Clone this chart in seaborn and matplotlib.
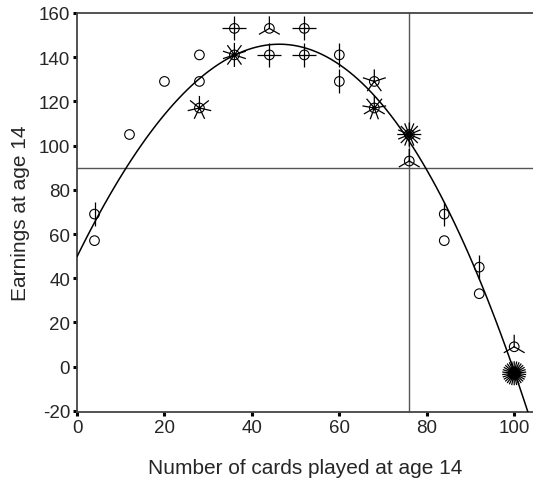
import numpy as np
import pandas as pd
import matplotlib
matplotlib.use("Agg")
import matplotlib.pyplot as plt
from matplotlib.path import Path
import seaborn as sns

# Cards played / earnings at age 14, with the number of people at each point
cards = [4, 4, 12, 20, 28, 28, 28, 36, 36, 44, 44, 52, 52, 60, 60,
         68, 68, 76, 76, 84, 84, 92, 92, 100, 100]
earnings = [69, 57, 105, 129, 141, 129, 117, 153, 141, 153, 141, 153, 141, 141, 129,
            129, 117, 105, 93, 69, 57, 45, 33, 9, -3]
counts = [2, 1, 1, 1, 1, 1, 7, 4, 10, 3, 4, 4, 4, 2, 2,
          5, 9, 16, 3, 2, 1, 2, 1, 3, 30]

x_ticks = [0, 20, 40, 60, 80, 100]
y_ticks = [-20, 0, 20, 40, 60, 80, 100, 120, 140, 160]
ref_x = 76
ref_y = 90

df = pd.DataFrame({"cards": cards, "earnings": earnings, "n": counts})
people = df.loc[df.index.repeat(df["n"])].reset_index(drop=True)

sns.set_theme(style="white")
plt.rcParams["font.family"] = ["Liberation Sans", "DejaVu Sans"]
plt.rcParams["axes.unicode_minus"] = False

fig = plt.figure(figsize=(5.33, 4.81), dpi=100)
ax = fig.add_axes([0.1445, 0.1414, 0.8555, 0.8297])
ax.set_xlim(0, 104.3)
ax.set_ylim(-20.5, 160)

# reference lines
ax.axhline(ref_y, color="#555555", lw=1.0, zorder=1)
ax.axvline(ref_x, color="#555555", lw=1.0, zorder=1)

# fitted curve over all individuals
sns.regplot(data=people, x="cards", y="earnings", order=3, scatter=False,
            ci=None, truncate=False, ax=ax,
            line_kws=dict(color="black", lw=1.1, zorder=3))

# sunflower centres
sns.scatterplot(data=df, x="cards", y="earnings", ax=ax, marker="o", s=48,
                facecolor="none", edgecolor="black", linewidth=0.8, zorder=4,
                legend=False)


def petal_marker(n):
    verts, codes = [], []
    for k in range(n):
        a = np.pi / 2 + 2 * np.pi * k / n
        verts += [(0, 0), (np.cos(a), np.sin(a))]
        codes += [Path.MOVETO, Path.LINETO]
    return Path(verts, codes)


# one petal per person wherever more than one share a point
for n, grp in df[df["n"] > 1].groupby("n"):
    ax.scatter(grp["cards"], grp["earnings"], marker=petal_marker(n), s=300,
               facecolor="none", edgecolor="black", linewidths=0.9, zorder=5)

ax.set_xticks(x_ticks)
ax.set_yticks(y_ticks)
ax.tick_params(axis="both", which="major", direction="out", length=3, width=2.2,
               color="black", labelsize=13.5, pad=2, bottom=True, left=True)
for side in ["left", "bottom", "top"]:
    ax.spines[side].set_color("#444444")
    ax.spines[side].set_linewidth(1.3)
ax.spines["right"].set_visible(False)

ax.set_xlabel("Number of cards played at age 14", fontsize=15, labelpad=16)
ax.set_ylabel("Earnings at age 14", fontsize=15, labelpad=6)

fig.savefig("out.png", dpi=100)
